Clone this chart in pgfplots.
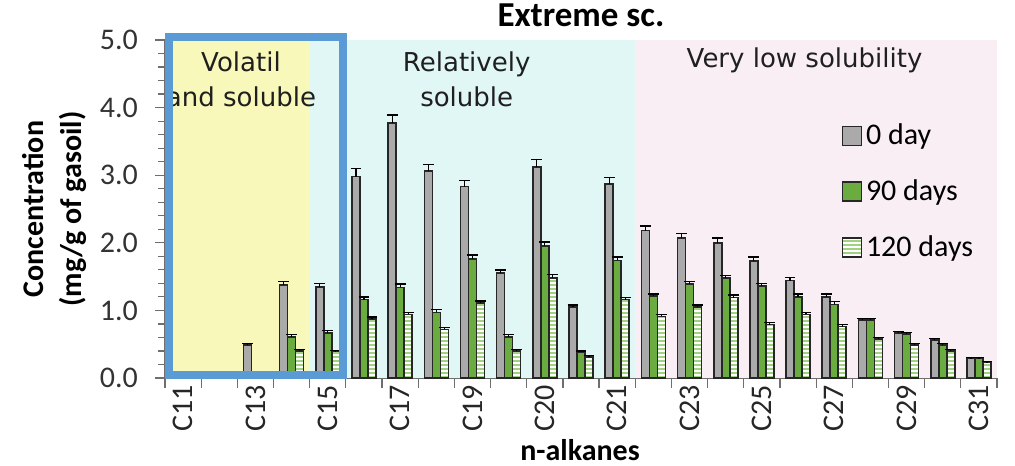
\documentclass[border=0pt]{standalone}
\usepackage{fontspec}
\setmainfont{Carlito}
\newfontfamily\dejavu{DejaVu Sans}
\usepackage{pgfplots}
\pgfplotsset{compat=1.18}
\usepackage{pgfplotstable}
\usetikzlibrary{patterns.meta}

\definecolor{bargray}{RGB}{170,170,170}
\definecolor{bargreen}{RGB}{106,172,64}
\definecolor{stripegreen}{RGB}{160,210,130}
\definecolor{bgyellow}{RGB}{248,248,186}
\definecolor{bgcyan}{RGB}{224,247,246}
\definecolor{bgpink}{RGB}{249,238,244}
\definecolor{boxblue}{RGB}{91,155,213}
\definecolor{axgray}{RGB}{110,110,110}

% x: category index (C11 ... C31), g = 0 day, v = 90 days, s = 120 days
\pgfplotstableread{
x  g    ge    v    ve    s    se
0  0.08 0.01  0.00 0.00  0.00 0.00
1  0.00 0.00  0.00 0.00  0.00 0.00
2  0.49 0.02  0.05 0.01  0.00 0.00
3  1.38 0.05  0.61 0.03  0.40 0.02
4  1.35 0.05  0.67 0.03  0.39 0.02
5  2.98 0.12  1.16 0.04  0.87 0.03
6  3.77 0.12  1.34 0.05  0.94 0.03
7  3.06 0.10  0.97 0.04  0.72 0.03
8  2.83 0.09  1.76 0.06  1.11 0.03
9  1.55 0.05  0.61 0.03  0.40 0.02
10 3.12 0.11  1.95 0.06  1.48 0.05
11 1.05 0.03  0.38 0.02  0.31 0.02
12 2.87 0.10  1.74 0.05  1.16 0.03
13 2.18 0.07  1.21 0.03  0.91 0.03
14 2.07 0.07  1.39 0.04  1.05 0.03
15 2.00 0.07  1.48 0.04  1.19 0.04
16 1.73 0.06  1.36 0.04  0.79 0.03
17 1.44 0.05  1.20 0.04  0.94 0.03
18 1.20 0.04  1.09 0.04  0.76 0.03
19 0.86 0.02  0.86 0.02  0.58 0.02
20 0.67 0.02  0.65 0.02  0.49 0.02
21 0.56 0.02  0.49 0.02  0.40 0.02
22 0.29 0.01  0.29 0.01  0.23 0.01
}\alkanes

\pgfplotsset{
  sqlegend/.style={legend image code/.code={
    \draw[##1, line width=0.6pt] (0pt,-4.75pt) rectangle (9.5pt,4.75pt);}},
  errs/.style={error bars/.cd, y dir=plus, y explicit,
    error bar style={black, line width=0.6pt},
    error mark options={black, line width=0.7pt, mark size=2.7pt, rotate=90}},
}

\begin{document}
\begin{tikzpicture}
\useasboundingbox (-82.5pt,-43.5pt) rectangle (425pt,189pt);
\begin{axis}[
  scale only axis,
  width=416pt, height=169pt,
  xmin=-0.5, xmax=22.5, ymin=0, ymax=5,
  ybar=0pt, bar width=4pt,
  clip=false,
  axis x line*=bottom, axis y line*=left,
  axis line style={axgray, line width=0.7pt, -},
  tick style={axgray, line width=0.6pt},
  tick align=outside,
  major tick length=5pt, minor tick length=3.5pt,
  % boundary ticks between categories, labels on every other category
  xtick={-0.5,0.5,...,22.5},
  xticklabel=\empty,
  extra x ticks={0,2,...,22},
  extra x tick labels={C11,C13,C15,C17,C19,C20,C21,C23,C25,C27,C29,C31},
  extra x tick style={major tick length=0pt, tick style={draw=none}},
  x tick label style={rotate=90, anchor=east, font=\fontsize{15}{15}\selectfont, text=black!85},
  ytick={0,1,2,3,4,5},
  minor ytick={0.2,0.4,...,4.9},
  y tick label style={font=\fontsize{15}{15}\selectfont, text=black!80, xshift=-5pt},
  yticklabel={\pgfmathprintnumber[fixed, fixed zerofill, precision=1, assume math mode=true]{\tick}},
  xlabel={n-alkanes},
  xlabel style={font=\bfseries\fontsize{15}{15}\selectfont,
    at={(axis description cs:0.4988,-0.213)}, anchor=center},
  ylabel={Concentration\\(mg/g of gasoil)},
  ylabel style={font=\bfseries\fontsize{15}{19}\selectfont, align=center,
    at={(axis description cs:-0.1334,0.5)}, anchor=center},
  legend style={at={(axis description cs:0.813,0.765)}, anchor=north west,
    draw=none, fill=none, font=\fontsize{15}{15}\selectfont,
    row sep=12pt, inner sep=0pt},
  legend cell align=left,
]
% solubility bands
\fill[bgyellow] (axis cs:-0.5,0) rectangle (axis cs:3.5,5);
\fill[bgcyan] (axis cs:3.5,0) rectangle (axis cs:12.5,5);
\fill[bgpink] (axis cs:12.5,0) rectangle (axis cs:22.5,5);

\addplot[sqlegend, fill=bargray, draw=black!85, line width=0.8pt, errs]
  table[x=x, y=g, y error=ge] {\alkanes};
\addplot[sqlegend, fill=bargreen, draw=black!85, line width=0.8pt, errs]
  table[x=x, y=v, y error=ve] {\alkanes};
\addplot[sqlegend, fill=white, draw=black!85, line width=0.8pt,
  postaction={pattern={Lines[angle=0, distance=2pt, line width=0.9pt]}, pattern color=stripegreen}, errs]
  table[x=x, y=s, y error=se] {\alkanes};
\legend{0 day, 90 days, 120 days}

\node[font=\dejavu\fontsize{13}{17.5}\selectfont, align=center, text=black!88]
  at (axis cs:1.6,4.42) {Volatil\\and soluble};
\node[font=\dejavu\fontsize{13}{17.5}\selectfont, align=center, text=black!88]
  at (axis cs:7.84,4.42) {Relatively\\soluble};
\node[font=\dejavu\fontsize{13}{17.5}\selectfont, text=black!88]
  at (axis cs:17.18,4.70) {Very low solubility};

\draw[boxblue, line width=4pt] (axis cs:-0.39,0.04) rectangle (axis cs:4.42,5.04);
\end{axis}
\node[font=\bfseries\fontsize{17.5}{17.5}\selectfont] at (208pt,181.5pt) {Extreme sc.};
\end{tikzpicture}
\end{document}
